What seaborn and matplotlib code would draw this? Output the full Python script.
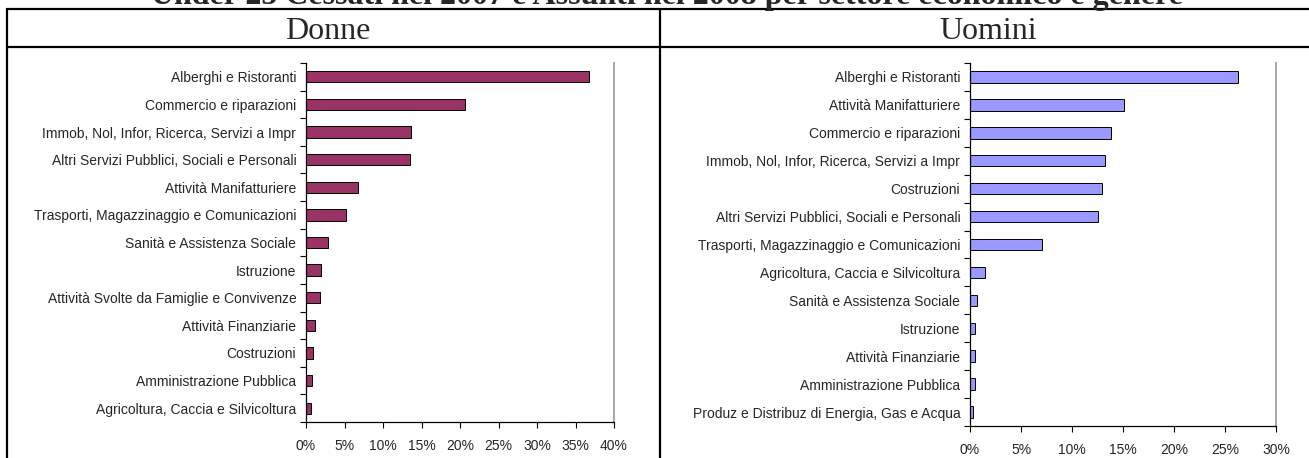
import numpy as np
import matplotlib
matplotlib.use("Agg")
import matplotlib.pyplot as plt
import seaborn as sns
from matplotlib.lines import Line2D
from matplotlib.ticker import PercentFormatter, FixedLocator, MultipleLocator

titolo = "Under 25 Cessati nel 2007 e Assunti nel 2008 per settore economico e genere"

donne_settori = [
    "Alberghi e Ristoranti",
    "Commercio e riparazioni",
    "Immob, Nol, Infor, Ricerca, Servizi a Impr",
    "Altri Servizi Pubblici, Sociali e Personali",
    "Attività Manifatturiere",
    "Trasporti, Magazzinaggio e Comunicazioni",
    "Sanità e Assistenza Sociale",
    "Istruzione",
    "Attività Svolte da Famiglie e Convivenze",
    "Attività Finanziarie",
    "Costruzioni",
    "Amministrazione Pubblica",
    "Agricoltura, Caccia e Silvicoltura",
]
donne_valori = [36.8, 20.7, 13.7, 13.5, 6.8, 5.2, 2.8, 1.9, 1.85, 1.15, 0.9, 0.75, 0.65]

uomini_settori = [
    "Alberghi e Ristoranti",
    "Attività Manifatturiere",
    "Commercio e riparazioni",
    "Immob, Nol, Infor, Ricerca, Servizi a Impr",
    "Costruzioni",
    "Altri Servizi Pubblici, Sociali e Personali",
    "Trasporti, Magazzinaggio e Comunicazioni",
    "Agricoltura, Caccia e Silvicoltura",
    "Sanità e Assistenza Sociale",
    "Istruzione",
    "Attività Finanziarie",
    "Amministrazione Pubblica",
    "Produz e Distribuz di Energia, Gas e Acqua",
]
uomini_valori = [26.3, 15.1, 13.8, 13.2, 12.95, 12.5, 7.1, 1.5, 0.73, 0.5, 0.5, 0.45, 0.3]

sns.set_style("white")
plt.rcParams['font.family'] = ['Liberation Sans', 'DejaVu Sans']
serif = ['Liberation Serif', 'DejaVu Serif']

W, H = 1309, 458
fig = plt.figure(figsize=(W / 100, H / 100), dpi=100)


def box(x0, y0, x1, y1):
    # pixel coords measured from the top left
    return [x0 / W, 1 - y1 / H, (x1 - x0) / W, (y1 - y0) / H]


def linea(xs, ys):
    fig.add_artist(Line2D([x / W for x in xs], [1 - y / H for y in ys],
                          transform=fig.transFigure, color='black', lw=1.6))


def pannello(ax, settori, valori, colore, xmax):
    sns.barplot(x=valori, y=settori, color=colore, saturation=1, width=0.41,
                edgecolor='black', linewidth=0.7, orient='h', ax=ax)
    n = len(settori)
    ax.set_xlim(0, xmax)
    ax.set_ylim(n - 0.5, -0.5)
    ax.xaxis.set_major_locator(MultipleLocator(5))
    ax.xaxis.set_major_formatter(PercentFormatter(decimals=0))
    ax.yaxis.set_minor_locator(FixedLocator(np.arange(-0.5, n, 1)))
    ax.tick_params(axis='y', which='major', left=False, length=0, pad=7, labelsize=10)
    ax.tick_params(axis='y', which='minor', left=True, length=4, width=0.8, color='black')
    ax.tick_params(axis='x', which='major', bottom=True, length=4, width=0.8,
                   color='black', pad=8, labelsize=10)
    ax.set_xlabel('')
    ax.set_ylabel('')
    ax.spines['top'].set_visible(False)
    ax.spines['left'].set_color('black')
    ax.spines['bottom'].set_color('black')
    ax.spines['left'].set_linewidth(0.9)
    ax.spines['bottom'].set_linewidth(0.9)
    ax.spines['right'].set_color('#a0a0a0')
    ax.spines['right'].set_linewidth(1.3)


ax1 = fig.add_axes(box(306, 63, 614, 422))
pannello(ax1, donne_settori, donne_valori, '#993366', 40)

ax2 = fig.add_axes(box(970, 63, 1276, 426))
pannello(ax2, uomini_settori, uomini_valori, '#9999FF', 30)

# table frame
linea([7, 1309], [9, 9])
linea([7, 1309], [47, 47])
linea([7, 7], [9, 458])
linea([660, 660], [9, 458])

fig.text(328 / W, 1 - 39 / H, "Donne", family=serif, size=23, ha='center', va='baseline')
fig.text(988 / W, 1 - 39 / H, "Uomini", family=serif, size=23, ha='center', va='baseline')
fig.text(667 / W, 1 - 4 / H, titolo, family=serif, weight='bold', size=23,
         ha='center', va='baseline')

fig.savefig('out.png', dpi=100)
